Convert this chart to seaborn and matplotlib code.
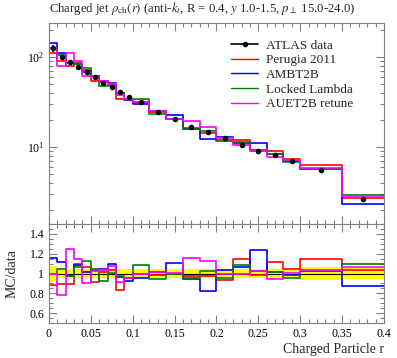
import numpy as np
import pandas as pd
import seaborn as sns
import matplotlib.pyplot as plt
from matplotlib.lines import Line2D
from matplotlib.ticker import MultipleLocator, LogLocator, NullFormatter

# bin edges in r
edges = [0, 0.01, 0.02, 0.03, 0.04, 0.05, 0.06, 0.07, 0.08, 0.09, 0.10,
         0.12, 0.14, 0.16, 0.18, 0.20, 0.22, 0.24, 0.26, 0.28, 0.30, 0.35, 0.40]

# ATLAS data rho_ch(r)
data = [125, 100, 88.7, 78, 67.6, 59.4, 51.8, 46.8, 41.1, 35.6, 31.6,
        24.7, 20.3, 16.8, 14.7, 12.5, 10.45, 9.03, 8.15, 7.05, 5.55, 2.64]
# relative uncertainty of the data
data_relerr = [0.08, 0.05, 0.045, 0.045, 0.045, 0.045, 0.045, 0.045, 0.045, 0.045, 0.05,
               0.05, 0.05, 0.05, 0.05, 0.05, 0.05, 0.05, 0.05, 0.05, 0.065, 0.06]

# MC / data ratios
perugia = [0.88, 0.897, 0.897, 1.10, 1.065, 0.915, 1.014, 1.034, 0.836, 0.95, 1.0,
           0.99, 1.0, 0.98, 0.973, 0.935, 1.144, 0.99, 1.113, 1.05, 1.15, 1.04]
ambt2b = [1.154, 1.116, 0.973, 1.085, 1.014, 1.04, 1.05, 1.095, 0.97, 0.925, 0.955,
          1.014, 1.11, 0.945, 0.825, 1.04, 1.065, 1.236, 1.014, 0.99, 1.024, 0.877]
locked = [1.0, 1.048, 0.973, 1.068, 1.127, 1.048, 0.92, 1.007, 0.973, 0.956, 1.085,
          0.94, 1.0, 0.95, 1.024, 0.955, 1.088, 1.03, 1.017, 0.955, 1.024, 1.10]
auet2b = [1.0, 0.785, 1.246, 1.15, 0.905, 1.024, 1.04, 1.075, 0.915, 0.955, 1.0,
          1.014, 1.007, 1.16, 1.127, 0.995, 1.0, 1.03, 0.94, 1.007, 1.04, 1.068]

mc_labels = ['Perugia 2011', 'AMBT2B', 'Locked Lambda', 'AUET2B retune']
mc_ratios = [perugia, ambt2b, locked, auet2b]
mc_colors = ['red', 'blue', 'green', 'magenta']

sns.set_style('ticks')
plt.rcParams['font.family'] = ['Liberation Serif', 'DejaVu Serif']
plt.rcParams['mathtext.fontset'] = 'stix'
plt.rcParams['axes.edgecolor'] = '0.5'
plt.rcParams['xtick.color'] = '0.5'
plt.rcParams['ytick.color'] = '0.5'
plt.rcParams['xtick.labelcolor'] = 'black'
plt.rcParams['ytick.labelcolor'] = 'black'

data_arr = np.array(data)
centers = [0.5 * (edges[i] + edges[i + 1]) for i in range(len(edges) - 1)]
relerr = np.array(data_relerr)

fig = plt.figure(figsize=(3.97, 3.58), dpi=100)
ax = fig.add_axes([0.1234, 0.374, 0.8438, 0.5618])
rax = fig.add_axes([0.1234, 0.0978, 0.8438, 0.2762], sharex=ax)

# main panel
for lab, rat, col in zip(mc_labels, mc_ratios, mc_colors):
    df = pd.DataFrame({'r': centers, 'w': data_arr * np.array(rat)})
    sns.histplot(data=df, x='r', weights='w', bins=edges, element='step',
                 fill=False, color=col, linewidth=1.2, ax=ax)
ax.errorbar(centers, data_arr, yerr=data_arr * relerr, fmt='o', color='black', ms=3,
            elinewidth=1.2, capsize=0, zorder=5)
ax.set_yscale('log')
ax.set_ylim(1.39, 239)
ax.set_xlim(0, 0.4)
ax.set_ylabel('')

handles = [Line2D([], [], color='black', marker='o', ms=3, lw=1.2)]
handles += [Line2D([], [], color=c, lw=1.0) for c in mc_colors]
ax.legend(handles, ['ATLAS data'] + mc_labels, loc='upper left',
          bbox_to_anchor=(0.525, 0.95), frameon=False, fontsize=9.5,
          handlelength=2.0, handletextpad=0.6, labelspacing=0.18, borderpad=0)

ax.set_title(r'Charged jet $\rho_{\rm ch}(r)$ (anti-$k_t$, R = 0.4, $y$ 1.0-1.5, $p_\perp$ 15.0-24.0)',
             loc='left', fontsize=9.2, pad=8)

# ratio panel
band_lo = np.append(1 - relerr, 1 - relerr[-1])
band_hi = np.append(1 + relerr, 1 + relerr[-1])
rax.fill_between(edges, band_lo, band_hi, step='post', color='yellow', lw=0)
rax.axhline(1.0, color='black', lw=0.8)
for lab, rat, col in zip(mc_labels, mc_ratios, mc_colors):
    df = pd.DataFrame({'r': centers, 'w': rat})
    sns.histplot(data=df, x='r', weights='w', bins=edges, element='step',
                 fill=False, color=col, linewidth=1.2, ax=rax)
rax.set_ylim(0.5, 1.5)
rax.set_xlim(0, 0.4)
rax.set_ylabel('MC/data', fontsize=10)
rax.set_xlabel('Charged Particle r', fontsize=10, loc='right', labelpad=2)
rax.yaxis.set_minor_locator(MultipleLocator(0.05))
rax.set_yticks([0.6, 0.8, 1.0, 1.2, 1.4], ['0.6', '0.8', '1', '1.2', '1.4'])
rax.set_xticks([0, 0.05, 0.1, 0.15, 0.2, 0.25, 0.3, 0.35, 0.4],
               ['0', '0.05', '0.1', '0.15', '0.2', '0.25', '0.3', '0.35', '0.4'])
rax.xaxis.set_minor_locator(MultipleLocator(0.01))
rax.yaxis.set_label_coords(-0.09, 0.5)

for a in (ax, rax):
    a.tick_params(which='both', direction='in', top=True, right=True, labelsize=8.5)
    a.tick_params(which='major', length=6, width=0.8)
    a.tick_params(which='minor', length=3, width=0.8)
ax.tick_params(axis='x', labelbottom=False)
ax.yaxis.set_minor_locator(LogLocator(base=10, subs=np.arange(2, 10)))
ax.yaxis.set_minor_formatter(NullFormatter())

fig.savefig('out.png', dpi=100)
